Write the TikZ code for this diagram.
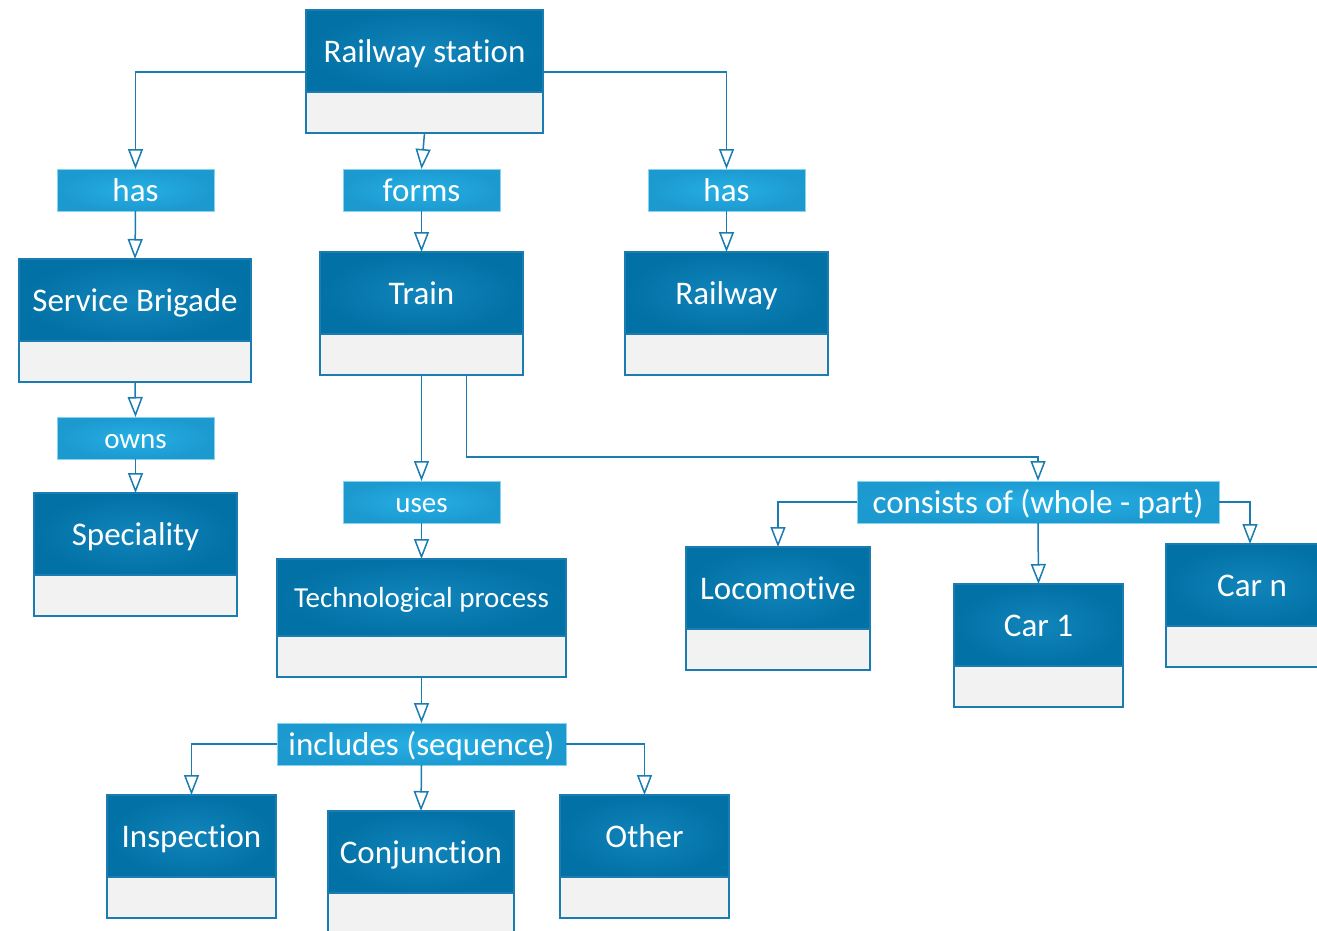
\documentclass[tikz,border=0pt]{standalone}
\usepackage{fontspec}
\setmainfont{Carlito}[Ligatures=NoCommon]
\usetikzlibrary{arrows.meta,calc}

\definecolor{hdrdark}{HTML}{0271A5}
\definecolor{hdrlight}{HTML}{1185BB}
\definecolor{lbldark}{HTML}{1C9AD0}
\definecolor{lbllight}{HTML}{26AFE4}
\definecolor{edge}{HTML}{1A7CB1}
\definecolor{bodygray}{HTML}{F2F2F2}

\tikzset{
  hdr/.style={shade, shading=radial, inner color=hdrlight, outer color=hdrdark,
    draw=edge, line width=1.2pt, text=white, inner sep=0pt, outer sep=0pt,
    font=\fontsize{33}{40}\selectfont, text height=28pt, text depth=6pt,
    anchor=north west},
  bodybox/.style={fill=bodygray, draw=edge, line width=1.6pt, inner sep=0pt,
    outer sep=0pt, anchor=north},
  rel/.style={shade, shading=radial, inner color=lbllight, outer color=lbldark,
    draw=lbllight!55!white, line width=1pt, text=white, inner sep=0pt, outer sep=0pt,
    minimum height=42pt, font=\fontsize{33}{40}\selectfont,
    text height=28pt, text depth=6pt},
  small/.style={font=\fontsize{29}{35}\selectfont, text height=25pt, text depth=5pt},
  link/.style={draw=edge, line width=1.5pt,
    -{Triangle[open, length=20pt, width=15pt, fill=white]}}
}

% class-like box: header with title and an empty body compartment
% #1 extra header options, #2 name, #3 x, #4 y, #5 width, #6 header height, #7 title
\newcommand\umlbox[7][]{%
  \node[hdr, #1, minimum width=#5pt, minimum height=#6pt] (#2) at (#3,#4) {#7};
  \node[bodybox, minimum width=#5pt, minimum height=41pt] (#2b) at (#2.south) {};
}

\begin{document}
\begin{tikzpicture}[x=1pt, y=-1pt]
  \fill[white] (0,0) rectangle (1317,930);
  \useasboundingbox (0,0) rectangle (1317,930);

  % entities
  \umlbox{rs}{306}{10}{237}{82}{Railway station}
  \umlbox{sb}{19}{259}{232}{82}{Service Brigade}
  \umlbox{tr}{320}{252}{203}{82}{Train}
  \umlbox{rw}{625}{252}{203}{82}{Railway}
  \umlbox{sp}{34}{493}{203}{82}{Speciality}
  \umlbox[small]{tp}{277}{559}{289}{77}{Technological process}
  \umlbox{lo}{686}{547}{184}{82}{Locomotive}
  \umlbox{cone}{954}{584}{169}{82}{Car 1}
  \umlbox{cenn}{1166}{544}{172}{82}{Car n}
  \umlbox{insp}{107}{795}{169}{82}{Inspection}
  \umlbox{cj}{328}{811}{186}{82}{Conjunction}
  \umlbox{ot}{560}{795}{169}{82}{Other}

  % relations
  \node[rel, minimum width=157pt] (hasl) at (135.5,190) {has};
  \node[rel, minimum width=157pt] (forms) at (421.5,190) {forms};
  \node[rel, minimum width=157pt] (hasr) at (726.5,190) {has};
  \node[rel, small, minimum width=157pt] (owns) at (135.5,438) {owns};
  \node[rel, small, minimum width=157pt] (uses) at (421.5,502) {uses};
  \node[rel, minimum width=362pt] (cons) at (1038,502) {consists of (whole - part)};
  \node[rel, minimum width=289pt] (incl) at (421.5,744) {includes (sequence)};

  % connectors
  \draw[link] ([yshift=-21pt]rs.west) -| (hasl.north);
  \draw[link] ([yshift=-21pt]rs.east) -| (hasr.north);
  \draw[link] (rsb.south) -- (forms.north);
  \draw[link] (hasl.south) -- (sb.north);
  \draw[link] (forms.south) -- (tr.north);
  \draw[link] (hasr.south) -- (rw.north);
  \draw[link] (sbb.south) -- (owns.north);
  \draw[link] (owns.south) -- (sp.north);
  \draw[link] (trb.south) -- (uses.north);
  \draw[link] ([xshift=45pt]trb.south) -- ++(0,82) -| (cons.north);
  \draw[link] (uses.south) -- (tp.north);
  \draw[link] (cons.west) -| (lo.north);
  \draw[link] (cons.south) -- (cone.north);
  \draw[link] (cons.east) -| ([xshift=-2pt]cenn.north);
  \draw[link] (tpb.south) -- (incl.north);
  \draw[link] (incl.west) -| (insp.north);
  \draw[link] (incl.south) -- (cj.north);
  \draw[link] (incl.east) -| (ot.north);
\end{tikzpicture}
\end{document}
